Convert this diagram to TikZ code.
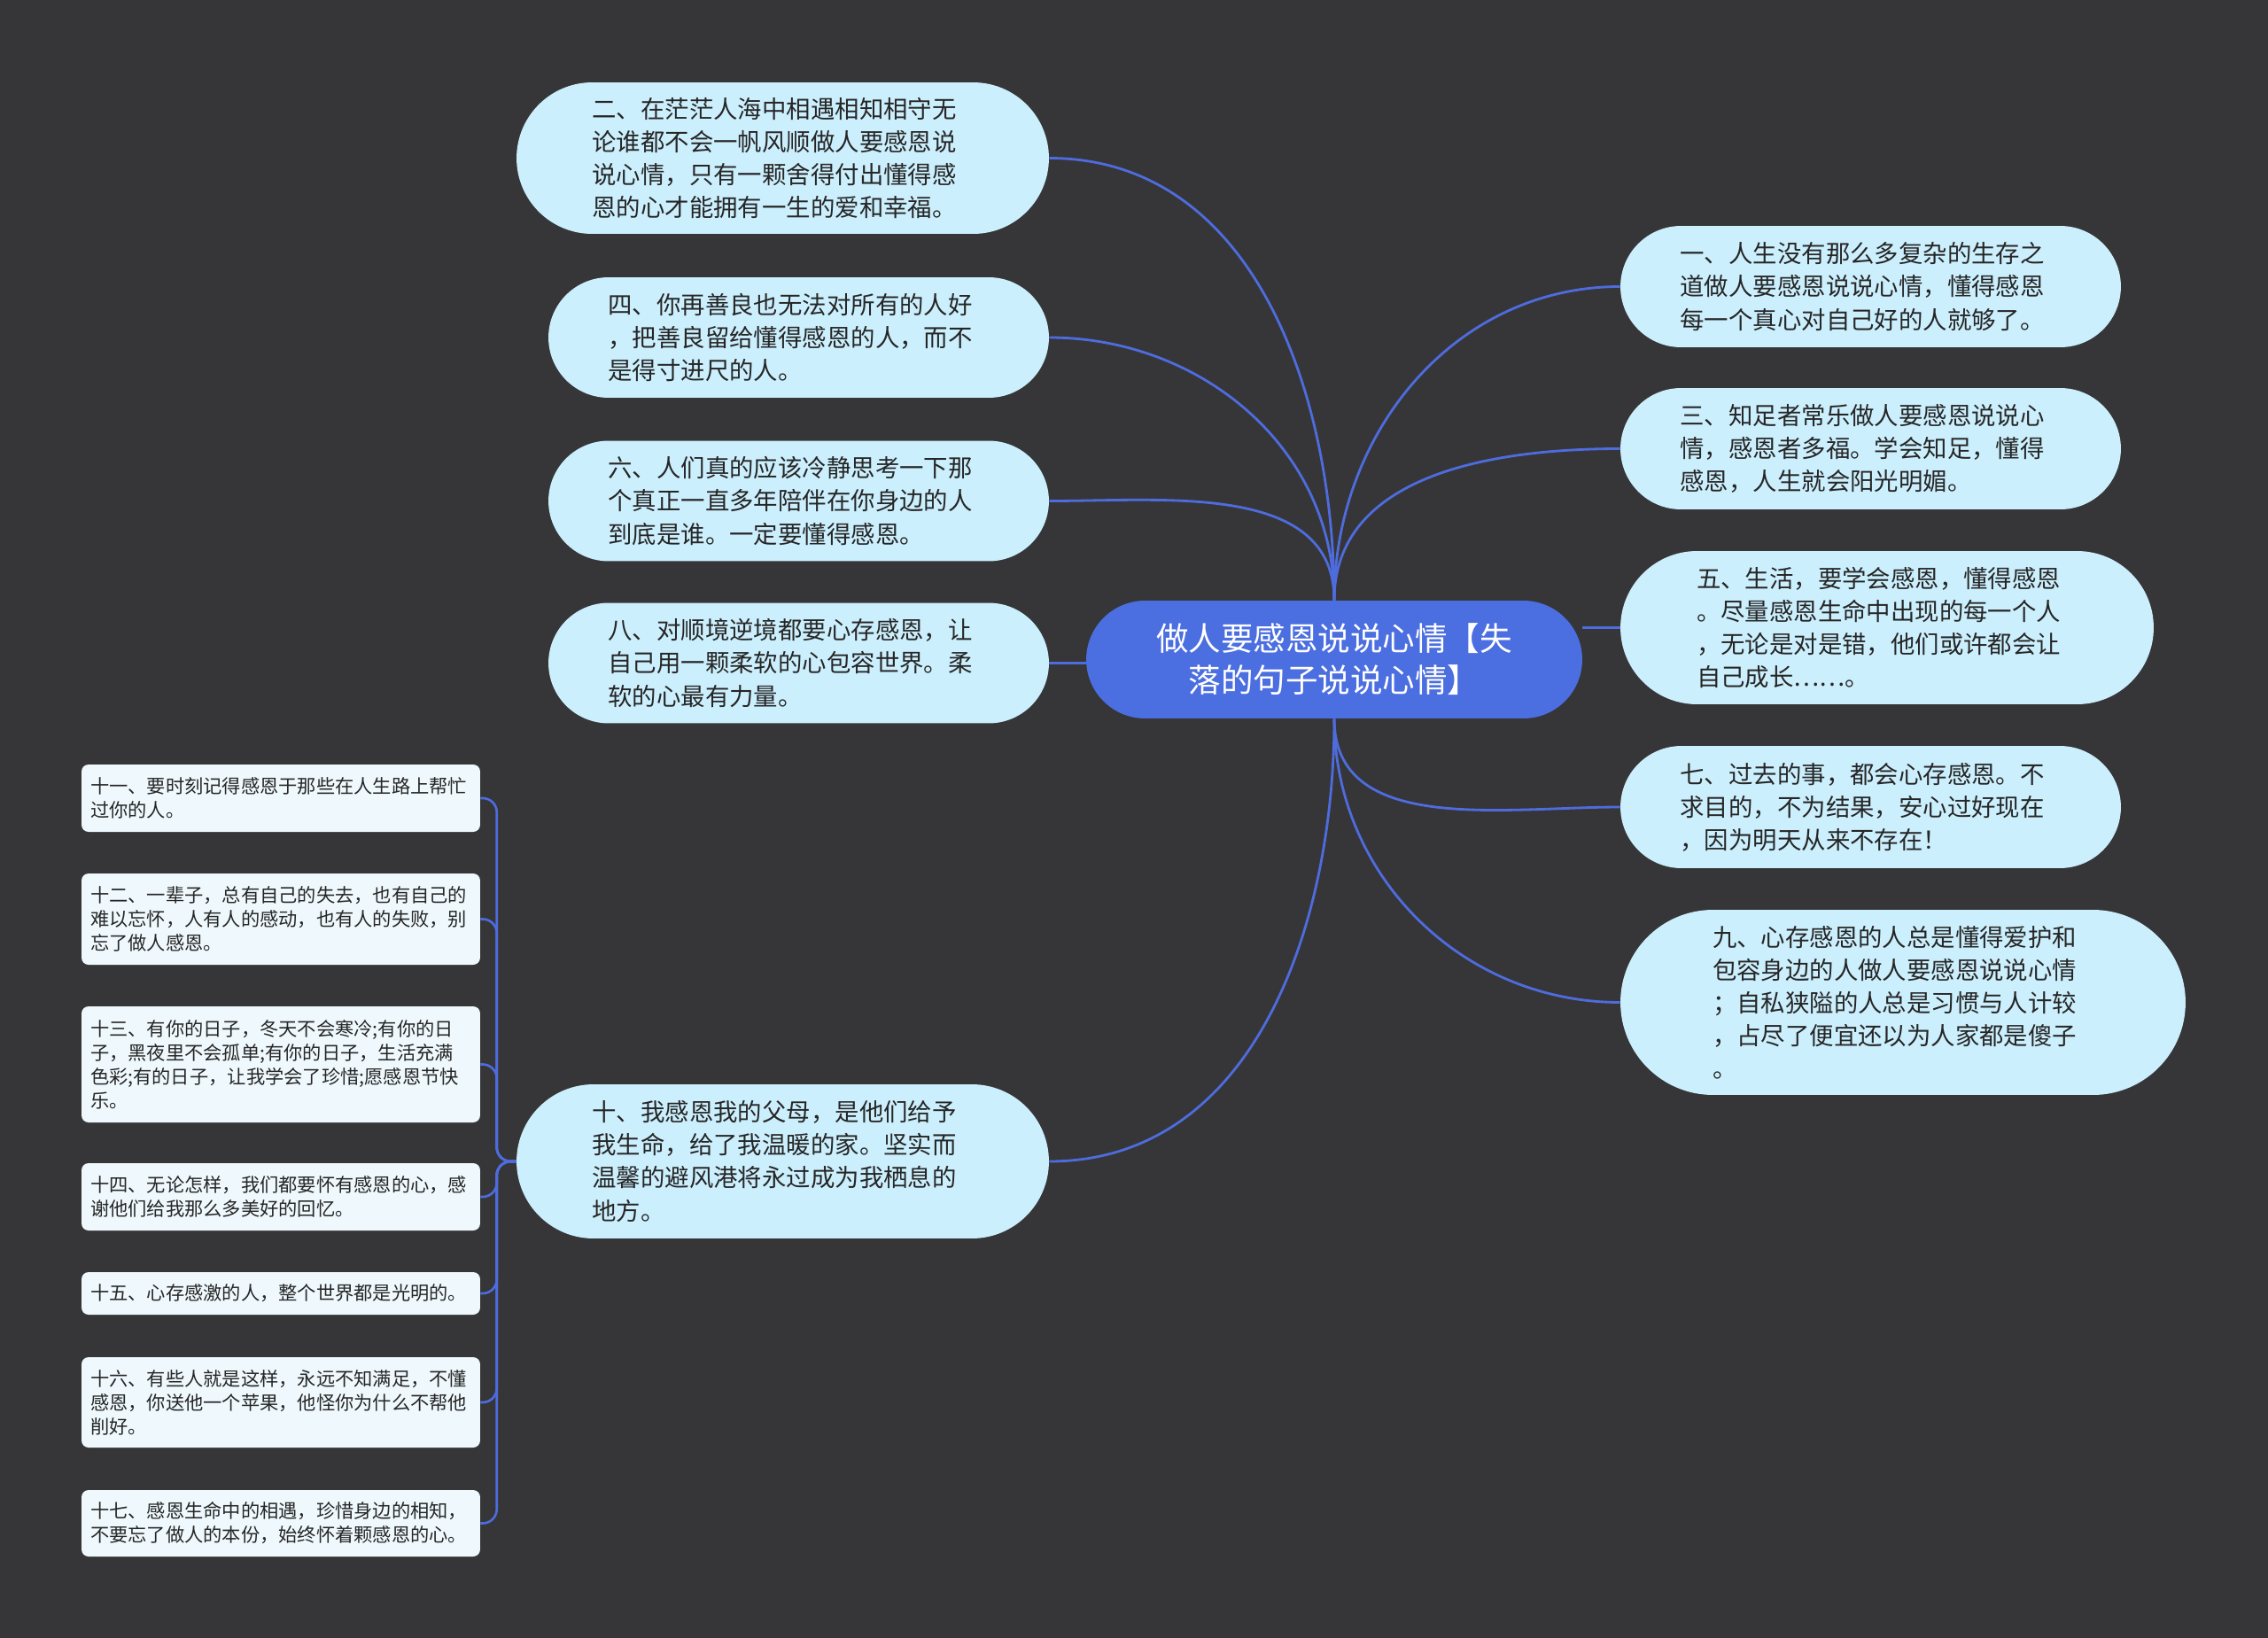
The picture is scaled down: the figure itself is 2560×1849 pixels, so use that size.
\documentclass[tikz,border=0pt]{standalone}
\usepackage{fontspec}
\newfontfamily\cjk{Noto Sans CJK SC}
\usetikzlibrary{shapes.misc}

\definecolor{bgdark}{HTML}{363638}
\definecolor{rootblue}{HTML}{4B6EE0}
\definecolor{linkblue}{HTML}{4E6CDD}
\definecolor{bubblefill}{HTML}{CCEFFD}
\definecolor{notefill}{HTML}{EFF9FD}
\definecolor{inkdark}{HTML}{262626}

\begin{document}
\begin{tikzpicture}[
    x = 0.02cm, y = -0.02cm,
    root/.style = {
      rounded rectangle, fill = rootblue, text = white,
      align = center, inner sep = 0pt,
      minimum width = 11.2cm, minimum height = 2.66cm,
      font = \cjk\fontsize{20.8}{26.8}\selectfont
    },
    bubble/.style = {
      rounded rectangle, fill = bubblefill, text = inkdark,
      text width = 8.6cm, align = left, inner sep = 0pt,
      minimum width = 11.3cm, minimum height = 2.72cm,
      font = \cjk\fontsize{15.6}{21.1}\selectfont
    },
    note/.style = {
      rectangle, rounded corners = 4.5pt, fill = notefill, text = inkdark,
      text width = 8.6cm, align = left,
      inner xsep = 0.2cm, inner ysep = 0pt,
      font = \cjk\fontsize{12.1}{15.4}\selectfont
    },
    link/.style = {draw = linkblue, line width = 1.6pt}
  ]

  % background
  \fill[bgdark] (0,0) rectangle (2560,1849);

  % ---- centre ----
  \node[root] (root) at (1506,744.5) {做人要感恩说说心情【失\\落的句子说说心情】};

  % ---- left branch ----
  \node[bubble, minimum width = 12.02cm, minimum height = 3.42cm] (n2) at (883.5,178.5)
    {二、在茫茫人海中相遇相知相守无\\论谁都不会一帆风顺做人要感恩说\\说心情，只有一颗舍得付出懂得感\\恩的心才能拥有一生的爱和幸福。};
  \node[bubble] (n4) at (901.5,381)
    {四、你再善良也无法对所有的人好\\，把善良留给懂得感恩的人，而不\\是得寸进尺的人。};
  \node[bubble] (n6) at (901.5,565.5)
    {六、人们真的应该冷静思考一下那\\个真正一直多年陪伴在你身边的人\\到底是谁。一定要懂得感恩。};
  \node[bubble] (n8) at (901.5,748.5)
    {八、对顺境逆境都要心存感恩，让\\自己用一颗柔软的心包容世界。柔\\软的心最有力量。};
  \node[bubble, minimum width = 12.02cm, minimum height = 3.48cm] (n10) at (883.5,1311)
    {十、我感恩我的父母，是他们给予\\我生命，给了我温暖的家。坚实而\\温馨的避风港将永过成为我栖息的\\地方。};

  % ---- right branch ----
  \node[bubble, minimum height = 2.74cm] (n1) at (2111.5,323.5)
    {一、人生没有那么多复杂的生存之\\道做人要感恩说说心情，懂得感恩\\每一个真心对自己好的人就够了。};
  \node[bubble, minimum height = 2.74cm] (n3) at (2111.5,506.5)
    {三、知足者常乐做人要感恩说说心\\情，感恩者多福。学会知足，懂得\\感恩，人生就会阳光明媚。};
  \node[bubble, minimum width = 12.04cm, minimum height = 3.46cm] (n5) at (2130,708.5)
    {五、生活，要学会感恩，懂得感恩\\。尽量感恩生命中出现的每一个人\\，无论是对是错，他们或许都会让\\自己成长……。};
  \node[bubble, minimum height = 2.76cm] (n7) at (2111.5,911)
    {七、过去的事，都会心存感恩。不\\求目的，不为结果，安心过好现在\\，因为明天从来不存在！};
  \node[bubble, minimum width = 12.76cm, minimum height = 4.18cm] (n9) at (2148,1131.5)
    {九、心存感恩的人总是懂得爱护和\\包容身边的人做人要感恩说说心情\\；自私狭隘的人总是习惯与人计较\\，占尽了便宜还以为人家都是傻子\\。};

  % ---- notes under n10 ----
  \node[note, minimum height = 1.52cm] (l11) at (317,901)
    {十一、要时刻记得感恩于那些在人生路上帮忙\\过你的人。};
  \node[note, minimum height = 2.06cm] (l12) at (317,1037.5)
    {十二、一辈子，总有自己的失去，也有自己的\\难以忘怀，人有人的感动，也有人的失败，别\\忘了做人感恩。};
  \node[note, minimum height = 2.62cm] (l13) at (317,1201.5)
    {十三、有你的日子，冬天不会寒冷;有你的日\\子，黑夜里不会孤单;有你的日子，生活充满\\色彩;有的日子，让我学会了珍惜;愿感恩节快\\乐。};
  \node[note, minimum height = 1.52cm] (l14) at (317,1351)
    {十四、无论怎样，我们都要怀有感恩的心，感\\谢他们给我那么多美好的回忆。};
  \node[note, minimum height = 0.96cm] (l15) at (317,1460)
    {十五、心存感激的人，整个世界都是光明的。};
  \node[note, minimum height = 2.04cm] (l16) at (317,1583)
    {十六、有些人就是这样，永远不知满足，不懂\\感恩，你送他一个苹果，他怪你为什么不帮他\\削好。};
  \node[note, minimum height = 1.5cm] (l17) at (317,1719.5)
    {十七、感恩生命中的相遇，珍惜身边的相知，\\不要忘了做人的本份，始终怀着颗感恩的心。};

  % ---- connectors ----
  \foreach \n in {n2,n4,n6}
    \draw[link] (root.north) to[out=90,in=0] (\n.east);
  \foreach \n in {n1,n3}
    \draw[link] (root.north) to[out=90,in=180] (\n.west);
  \draw[link] (n8.east) -- (n8.east -| root.west);
  \draw[link] (n5.west) -- (n5.west -| root.east);
  \draw[link] (root.south) to[out=-90,in=0] (n10.east);
  \foreach \n in {n7,n9}
    \draw[link] (root.south) to[out=-90,in=180] (\n.west);

  % notes join a trunk just left of n10
  \coordinate (hub) at ([xshift=-0.44cm]n10.west);
  \foreach \n in {11,...,17}
    \draw[link, line width = 1.5pt, rounded corners = 9pt] (l\n.east) -| (hub) -- (n10.west);

\end{tikzpicture}
\end{document}
